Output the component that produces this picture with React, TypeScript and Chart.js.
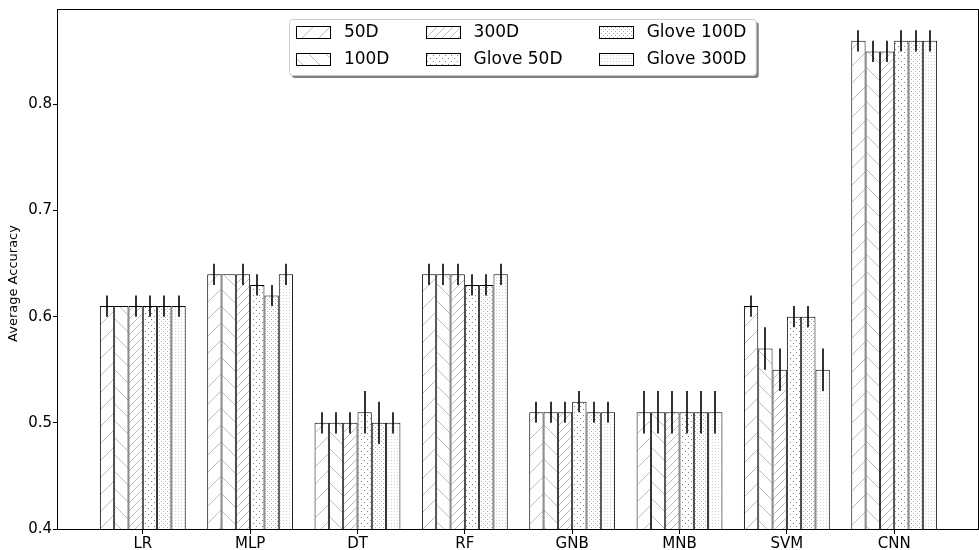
import React, { useEffect, useRef } from 'react';
import { Chart, registerables } from 'chart.js';

Chart.register(...registerables);

const categories = ['LR', 'MLP', 'DT', 'RF', 'GNB', 'MNB', 'SVM', 'CNN'];
const seriesNames = ['50D', '100D', '300D', 'Glove 50D', 'Glove 100D', 'Glove 300D'];

const acc50D = [0.61, 0.64, 0.50, 0.64, 0.51, 0.51, 0.61, 0.86];
const acc100D = [0.61, 0.64, 0.50, 0.64, 0.51, 0.51, 0.57, 0.85];
const acc300D = [0.61, 0.64, 0.50, 0.64, 0.51, 0.51, 0.55, 0.85];
const accGlove50D = [0.61, 0.63, 0.51, 0.63, 0.52, 0.51, 0.60, 0.86];
const accGlove100D = [0.61, 0.62, 0.50, 0.63, 0.51, 0.51, 0.60, 0.86];
const accGlove300D = [0.61, 0.64, 0.50, 0.64, 0.51, 0.51, 0.55, 0.86];

const err50D = [0.01, 0.01, 0.01, 0.01, 0.01, 0.02, 0.01, 0.01];
const err100D = [0, 0, 0.01, 0.01, 0.01, 0.02, 0.02, 0.01];
const err300D = [0.01, 0.01, 0.01, 0.01, 0.01, 0.02, 0.02, 0.01];
const errGlove50D = [0.01, 0.01, 0.02, 0.01, 0.01, 0.02, 0.01, 0.01];
const errGlove100D = [0.01, 0.01, 0.02, 0.01, 0.01, 0.02, 0.01, 0.01];
const errGlove300D = [0.01, 0.01, 0.01, 0.01, 0.01, 0.02, 0.02, 0.01];

const yTicks = [0.4, 0.5, 0.6, 0.7, 0.8];
const yMin = 0.4;
const yMax = 0.889;
const xMin = -0.79;
const xMax = 7.79;
const yTitle = 'Average Accuracy';

const FONT = '"DejaVu Sans", sans-serif';

const seriesValues = [acc50D, acc100D, acc300D, accGlove50D, accGlove100D, accGlove300D];
const seriesErrors = [err50D, err100D, err300D, errGlove50D, errGlove100D, errGlove300D];

type HatchKind = 'slash' | 'backslash' | 'dslash' | 'dot1' | 'dot2' | 'dot3';
const hatchKinds: HatchKind[] = ['slash', 'backslash', 'dslash', 'dot1', 'dot2', 'dot3'];

function makePattern(kind: HatchKind): CanvasPattern | string {
  const c = document.createElement('canvas');
  let size = 17;
  if (kind === 'dslash') size = 8;
  if (kind === 'dot1') size = 6;
  if (kind === 'dot2') size = 4;
  if (kind === 'dot3') size = 3;
  c.width = size;
  c.height = size;
  const g = c.getContext('2d');
  if (!g) return '#fff';
  g.fillStyle = '#fff';
  g.fillRect(0, 0, size, size);
  if (kind === 'slash' || kind === 'dslash') {
    g.strokeStyle = '#bdbdbd';
    g.lineWidth = 1;
    g.beginPath();
    g.moveTo(-2, size + 2);
    g.lineTo(size + 2, -2);
    g.moveTo(-2, 2);
    g.lineTo(2, -2);
    g.moveTo(size - 2, size + 2);
    g.lineTo(size + 2, size - 2);
    g.stroke();
  } else if (kind === 'backslash') {
    g.strokeStyle = '#bdbdbd';
    g.lineWidth = 1;
    g.beginPath();
    g.moveTo(-2, -2);
    g.lineTo(size + 2, size + 2);
    g.moveTo(size - 2, -2);
    g.lineTo(size + 2, 2);
    g.moveTo(-2, size - 2);
    g.lineTo(2, size + 2);
    g.stroke();
  } else if (kind === 'dot1') {
    g.fillStyle = '#808080';
    g.fillRect(1, 1, 1, 1);
    g.fillRect(4, 4, 1, 1);
  } else if (kind === 'dot2') {
    g.fillStyle = '#b0b0b0';
    g.fillRect(1, 1, 1, 1);
    g.fillRect(3, 3, 1, 1);
  } else {
    g.fillStyle = '#d2d2d2';
    g.fillRect(1, 1, 1, 1);
  }
  const p = g.createPattern(c, 'repeat');
  return p || '#fff';
}

const errorBarPlugin = {
  id: 'errorBars',
  afterDatasetsDraw(chart: any) {
    const ctx = chart.ctx;
    const yScale = chart.scales.y;
    ctx.save();
    ctx.strokeStyle = '#000';
    ctx.lineWidth = 1.6;
    chart.data.datasets.forEach((ds: any, di: number) => {
      const meta = chart.getDatasetMeta(di);
      const errs = seriesErrors[di];
      meta.data.forEach((bar: any, i: number) => {
        const e = errs[i];
        if (!e) return;
        const v = seriesValues[di][i];
        const x = Math.round(bar.x);
        ctx.beginPath();
        ctx.moveTo(x, yScale.getPixelForValue(v + e));
        ctx.lineTo(x, yScale.getPixelForValue(v - e));
        ctx.stroke();
      });
    });
    // spines
    const a = chart.chartArea;
    ctx.lineWidth = 1;
    ctx.strokeStyle = '#000';
    ctx.strokeRect(Math.round(a.left) - 0.5, Math.round(a.top) - 0.5, Math.round(a.right - a.left), Math.round(a.bottom - a.top) + 1);
    // y-axis title
    ctx.save();
    ctx.translate(13.8, (a.top + a.bottom) / 2 + 14);
    ctx.rotate(-Math.PI / 2);
    ctx.font = `13px ${FONT}`;
    ctx.fillStyle = '#000';
    ctx.textAlign = 'center';
    ctx.textBaseline = 'middle';
    ctx.fillText(yTitle, 0, 0);
    ctx.restore();
    ctx.restore();
  },
};

const legendPlugin = {
  id: 'mplLegend',
  afterDraw(chart: any) {
    const ctx = chart.ctx;
    const a = chart.chartArea;
    const f = 17;
    ctx.save();
    ctx.font = `${f}px ${FONT}`;
    const handleW = 2 * f;
    const handleH = 0.7 * f;
    const textPad = 0.8 * f;
    const colSpace = 2.15 * f;
    const borderPad = 0.4 * f;
    const cols = [[0, 1], [2, 3], [4, 5]];
    const colWidths = cols.map(
      (c) => handleW + textPad + Math.max(...c.map((i) => ctx.measureText(seriesNames[i]).width))
    );
    const contentW = colWidths.reduce((s, w) => s + w, 0) + colSpace * (cols.length - 1);
    const boxW = contentW + 2 * borderPad + 3;
    const boxH = 56;
    const cx = (a.left + a.right) / 2 + 4;
    const bx = Math.round(cx - boxW / 2) + 0.5;
    const by = Math.round(a.top + 9) + 0.5;
    const rr = (x: number, y: number, w: number, h: number, r: number) => {
      ctx.beginPath();
      ctx.moveTo(x + r, y);
      ctx.lineTo(x + w - r, y);
      ctx.quadraticCurveTo(x + w, y, x + w, y + r);
      ctx.lineTo(x + w, y + h - r);
      ctx.quadraticCurveTo(x + w, y + h, x + w - r, y + h);
      ctx.lineTo(x + r, y + h);
      ctx.quadraticCurveTo(x, y + h, x, y + h - r);
      ctx.lineTo(x, y + r);
      ctx.quadraticCurveTo(x, y, x + r, y);
      ctx.closePath();
    };
    // shadow
    rr(bx + 2.5, by + 2.5, boxW, boxH, 3);
    ctx.fillStyle = 'rgba(0,0,0,0.5)';
    ctx.fill();
    rr(bx, by, boxW, boxH, 3);
    ctx.fillStyle = '#fff';
    ctx.fill();
    ctx.strokeStyle = '#cccccc';
    ctx.lineWidth = 1;
    ctx.stroke();

    const rowY = [by + 12.5, by + 39.5];
    let x = bx + borderPad;
    cols.forEach((c, ci) => {
      c.forEach((si, ri) => {
        const cy = rowY[ri];
        const hx = Math.round(x) + 0.5;
        const hy = Math.round(cy - handleH / 2) + 0.5;
        ctx.fillStyle = chart.data.datasets[si].backgroundColor;
        ctx.fillRect(hx, hy, handleW, Math.round(handleH));
        ctx.strokeStyle = '#000';
        ctx.lineWidth = 1;
        ctx.strokeRect(hx, hy, handleW, Math.round(handleH));
        ctx.fillStyle = '#000';
        ctx.textAlign = 'left';
        ctx.textBaseline = 'middle';
        ctx.fillText(seriesNames[si], x + handleW + textPad, cy + 1);
      });
      x += colWidths[ci] + colSpace;
    });
    ctx.restore();
  },
};

export default function App() {
  const ref = useRef<HTMLCanvasElement | null>(null);
  useEffect(() => {
    if (!ref.current) return;
    const datasets = seriesNames.map((name, si) => ({
      label: name,
      data: seriesValues[si].map((v, i) => ({ x: i, y: v })),
      backgroundColor: makePattern(hatchKinds[si]) as any,
      borderColor: '#000',
      borderWidth: 1,
      categoryPercentage: 0.8,
      barPercentage: 1,
    }));
    const chart = new Chart(ref.current, {
      type: 'bar',
      data: { datasets },
      options: {
        responsive: false,
        animation: false,
        devicePixelRatio: 1,
        layout: { padding: { top: 8, right: 0, left: 0, bottom: 0 } },
        plugins: { legend: { display: false }, tooltip: { enabled: false } },
        scales: {
          x: {
            type: 'linear',
            min: xMin,
            max: xMax,
            offset: false,
            afterBuildTicks: (s: any) => {
              s.ticks = categories.map((_, i) => ({ value: i }));
            },
            afterFit: (s: any) => {
              s.height = 21;
            },
            ticks: {
              callback: (v: any) => categories[Math.round(Number(v))] ?? '',
              font: { family: FONT, size: 15 },
              color: '#000',
              padding: 1,
              autoSkip: false,
              maxRotation: 0,
            },
            grid: { offset: false, drawOnChartArea: false, drawTicks: true, tickLength: 5, color: '#000' },
            border: { display: false },
          },
          y: {
            type: 'linear',
            min: yMin,
            max: yMax,
            afterBuildTicks: (s: any) => {
              s.ticks = yTicks.map((v) => ({ value: v }));
            },
            afterFit: (s: any) => {
              s.width = 58;
            },
            ticks: {
              callback: (v: any) => Number(v).toFixed(1),
              font: { family: FONT, size: 15 },
              color: '#000',
              padding: 1,
            },
            title: { display: false },
            grid: { offset: false, drawOnChartArea: false, drawTicks: true, tickLength: 5, color: '#000' },
            border: { display: false },
          },
        },
      } as any,
      plugins: [errorBarPlugin, legendPlugin],
    });
    return () => chart.destroy();
  }, []);
  return (
    <div style={{ position: 'absolute', left: 0, top: 0, width: 979, height: 550 }}>
      <canvas ref={ref} width={979} height={550} style={{ display: 'block' }} />
    </div>
  );
}
